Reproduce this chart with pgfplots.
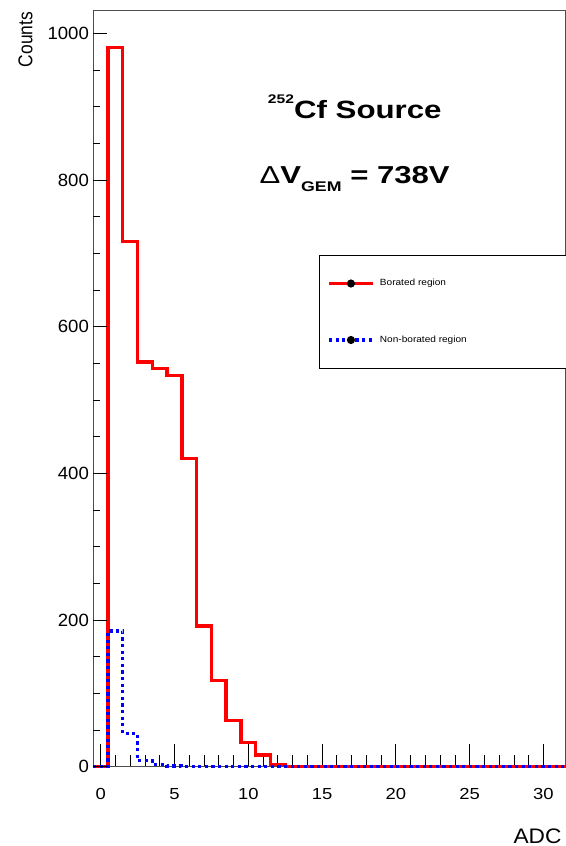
\documentclass[border=0pt]{standalone}
\usepackage{pgfplots}
\pgfplotsset{compat=1.18}
\usepackage{fontspec}
\setmainfont{Liberation Sans}

\pgfplotstableread{
x y
-0.5 0
0.5 981
1.5 716
2.5 552
3.5 543
4.5 533
5.5 420
6.5 192
7.5 118
8.5 63
9.5 33
10.5 16
11.5 3
12.5 0
31.5 0
}\borated

\pgfplotstableread{
x y
-0.5 0
0.5 185
1.5 45
2.5 8
3.5 3
4.5 1
5.5 0
31.5 0
}\nonborated

\begin{document}
\begin{tikzpicture}
\useasboundingbox (-93.3pt,-79.3pt) rectangle (471.7pt,766.7pt);
\pgfplotsset{
  common/.style={
    width=472.3pt, height=755.7pt, scale only axis,
    xmin=-0.5, xmax=31.5, ymin=0, ymax=1030.4,
    tick align=inside,
    /pgf/number format/assume math mode=true,
    /pgf/number format/1000 sep={},
    scaled ticks=false,
    tick style={black, line width=0.8pt},
  }
}
% axis 1: frame, x ticks, plots
\begin{axis}[common,
  clip=false,
  axis line style={draw=black!70, line width=1pt},
  xtick={0,5,...,30}, minor x tick num=4,
  xtick pos=bottom, ytick=\empty,
  major tick length=22.7pt, minor tick length=11.3pt,
  xticklabel style={font=\fontsize{16}{16}\selectfont, xscale=1.15, anchor=north, inner sep=0pt, yshift=-21.6pt},
  xlabel={ADC},
  every axis x label/.style={at={(axis description cs:0.9917,0)}, anchor=base east, yshift=-76.6pt,
     font=\fontsize{21}{21}\selectfont, xscale=1.08, inner sep=0pt},
  legend cell align=left,
  legend style={at={(axis description cs:0.4785,0.6771)}, anchor=north west,
     draw=black, line width=0.9pt, fill=white,
     inner xsep=7.7pt, inner ysep=23.8pt, row sep=48pt, column sep=5.5pt,
     font=\fontsize{9}{9}\selectfont,
     nodes={inner sep=0pt, text height=6.6pt, text depth=1.9pt}},
  legend image code/.code={
     \draw[#1] (0pt,0pt) -- (43.7pt,0pt);
     \path[draw=none, fill=black, solid] (21.85pt,0pt) circle (4.1pt);
  },
]
\addplot[const plot, red, line width=3.3pt, line join=miter] table[x=x,y=y] {\borated};
\addlegendentry{\makebox[181pt][l]{\scalebox{1.12}[1]{Borated region}}}
\addplot[const plot, blue, line width=3.2pt, dash pattern=on 3.2pt off 3.4pt, line join=miter] table[x=x,y=y] {\nonborated};
\addlegendentry{\makebox[181pt][l]{\scalebox{1.12}[1]{Non-borated region}}}

\node[anchor=base, xscale=1.25, font=\bfseries\fontsize{25}{25}\selectfont, inner sep=0pt]
  at (rel axis cs:0.5537,0.8584) {\raisebox{14.7pt}{\fontsize{12.5}{12.5}\selectfont 252}Cf Source};
\node[anchor=base, xscale=1.27, font=\bfseries\fontsize{24.5}{24.5}\selectfont, inner sep=0pt]
  at (rel axis cs:0.5534,0.772) {{\mdseries\symbol{"0394}}V\raisebox{-8.4pt}{\fontsize{14}{14}\selectfont GEM} = 738V};
\end{axis}
% axis 2: y ticks and label
\begin{axis}[common,
  hide x axis,
  axis line style={draw=none},
  ytick={0,200,...,1000}, minor y tick num=3,
  ytick pos=left,
  major tick length=14pt, minor tick length=7pt,
  yticklabel style={font=\fontsize{17.7}{17.7}\selectfont, xscale=1.05, anchor=east, inner sep=0pt, xshift=-4pt},
  ylabel={\scalebox{0.87}[1]{Counts}},
  every axis y label/.style={at={(axis description cs:-0.1292,0.9991)}, anchor=base east, rotate=90,
     font=\fontsize{20}{20}\selectfont, inner sep=0pt},
]
\end{axis}
\end{tikzpicture}
\end{document}
